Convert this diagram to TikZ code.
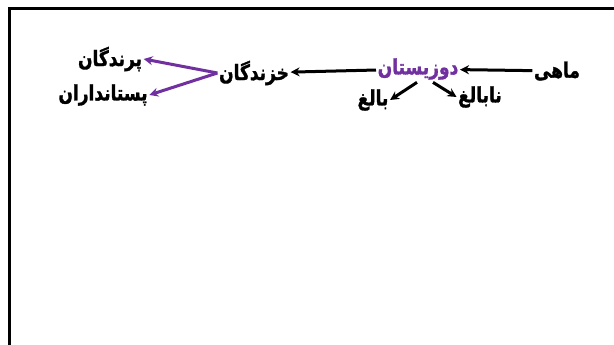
\documentclass[tikz,border=0pt]{standalone}
\usepackage{fontspec}
\usepackage{tikz}
\usetikzlibrary{arrows.meta}
\TeXXeTstate=1
\newfontfamily\farsi[Script=Arabic, BoldFeatures={FakeBold=1.5}]{DejaVu Sans}
\definecolor{oPurple}{HTML}{7030A0}
\newcommand{\fa}[1]{\scalebox{1}[1.25]{\beginR #1\endR}}

\tikzset{
  word/.style={font=\farsi\bfseries\fontsize{17}{20}\selectfont, inner sep=1.5pt},
  link/.style={-{Stealth[length=9pt,width=9pt]}, line width=3pt}
}

\begin{document}
\begin{tikzpicture}[x=1pt,y=-1pt]
  \useasboundingbox (0,0) rectangle (614,345);
  % frame
  \draw[line width=3pt] (9,346) -- (9,9) -- (615,9);

  % main row
  \node[word] (mahi) at (557,71) {\fa{ماهی}};
  \node[word, text=oPurple] (dozi) at (418,69) {\fa{دوزیستان}};
  \node[word] (khaz) at (254,73) {\fa{خزندگان}};

  % amphibian stages
  \node[word] (baleg) at (373,100) {\fa{بالغ}};
  \node[word] (nabaleg) at (480,97) {\fa{نابالغ}};

  % reptiles split
  \node[word] (parand) at (110,59) {\fa{پرندگان}};
  \node[word] (pestan) at (103,95) {\fa{پستانداران}};

  \draw[link] (mahi) -- (dozi);
  \draw[link] (dozi) -- (khaz);
  \draw[link] ([xshift=-1pt,yshift=-1pt]dozi.south) -- (baleg.east);
  \draw[link] ([xshift=15pt,yshift=-1pt]dozi.south) -- (nabaleg.west);
  \draw[link, oPurple] (khaz.west) -- (parand.east);
  \draw[link, oPurple] (khaz.west) -- (pestan.east);
\end{tikzpicture}
\end{document}
